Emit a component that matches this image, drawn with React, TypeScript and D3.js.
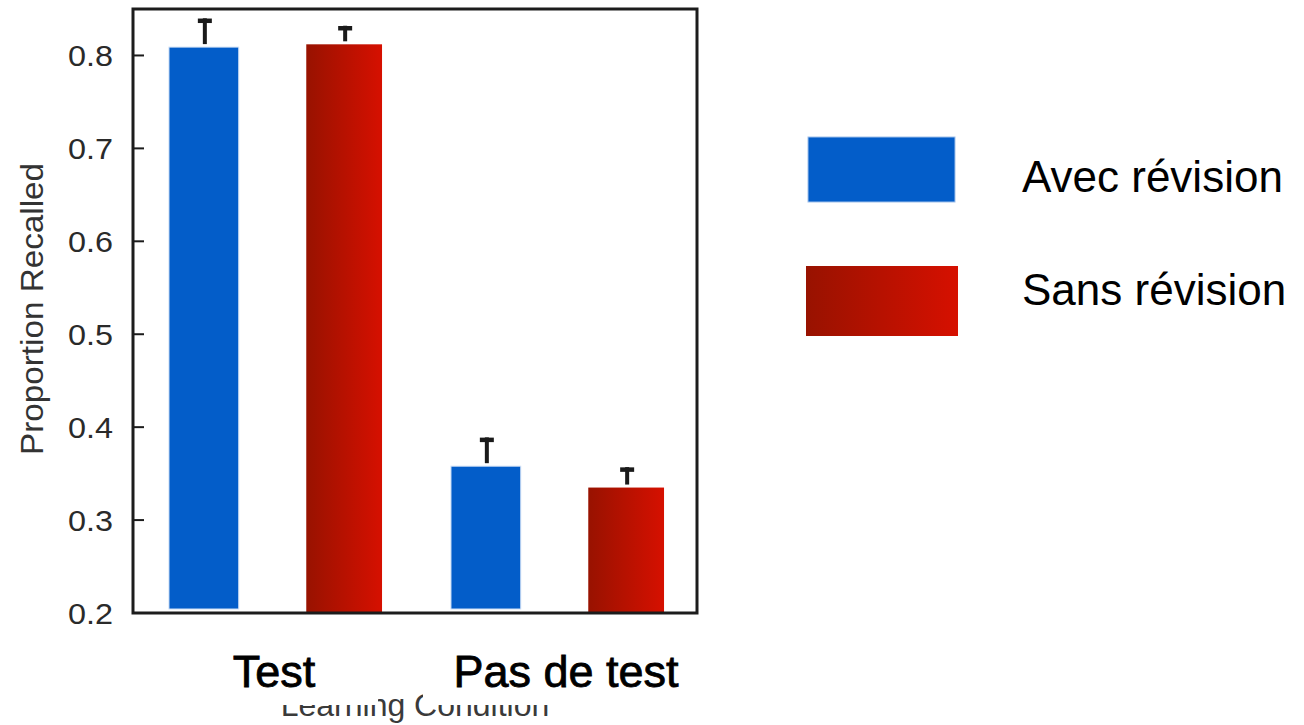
import React from "react";
import * as d3 from "d3";

const conditions = ["Test", "Pas de test"];
const series = ["Avec révision", "Sans révision"];
const avecValues = [0.809, 0.358];
const sansValues = [0.812, 0.335];
const avecErrors = [0.031, 0.031];
const sansErrors = [0.020, 0.022];
const yTicks = [0.2, 0.3, 0.4, 0.5, 0.6, 0.7, 0.8];
const yTitle = "Proportion Recalled";
const xTitle = "Learning Condition";

const W = 1304;
const H = 725;
const left = 133;
const right = 697;
const top = 9;
const bottom = 613;

const BLUE = "#035dc9";
const FONT = "'Liberation Sans', Arial, Helvetica, sans-serif";

export default function App() {
  const y = d3.scaleLinear().domain([0.2, 0.85]).range([bottom, top]);
  const x0 = d3.scaleBand<string>().domain(conditions).range([left, right]).paddingInner(0).paddingOuter(0);
  const x1 = d3.scaleBand<string>().domain(series).range([0, x0.bandwidth()]).paddingInner(0.46).paddingOuter(0.235);
  const bw = x1.bandwidth();

  const rows = conditions.map((c, i) => ({
    c,
    vals: [
      { s: series[0], v: avecValues[i], e: avecErrors[i] },
      { s: series[1], v: sansValues[i], e: sansErrors[i] },
    ],
  }));

  const labelDx = [0, 10];

  return (
    <svg width={W} height={H} style={{ position: "absolute", left: 0, top: 0, display: "block", background: "#fff" }}>
      <defs>
        <linearGradient id="redGrad" x1="0" x2="1" y1="0" y2="0">
          <stop offset="0%" stopColor="#981200" />
          <stop offset="100%" stopColor="#d61000" />
        </linearGradient>
      </defs>
      <rect x={0} y={0} width={W} height={H} fill="#fff" />

      {/* Learning Condition (partly hidden) */}
      <text x={415} y={716} textAnchor="middle" fontFamily={FONT} fontSize={32} fill="#3a3a3a">
        {xTitle}
      </text>
      <rect x={215} y={636} width={163} height={69} fill="#fff" />
      <rect x={423} y={636} width={277} height={69} fill="#fff" />

      {/* bars */}
      {rows.map((r) => (
        <g key={r.c} transform={`translate(${x0(r.c)},0)`}>
          {r.vals.map((d, j) => {
            const bx = x1(d.s) as number;
            const yt = y(d.v);
            if (j === 0) {
              return (
                <g key={d.s}>
                  <rect x={bx - 1} y={yt - 2} width={bw + 2} height={bottom - yt + 2} fill="#fff" />
                  <rect x={bx + 3} y={yt} width={bw - 6} height={bottom - 4 - yt} fill={BLUE} stroke="#cfe0f6" strokeWidth={1} />
                </g>
              );
            }
            return <rect key={d.s} x={bx} y={yt} width={bw} height={bottom - yt} fill="url(#redGrad)" />;
          })}
          {r.vals.map((d) => {
            const cx = (x1(d.s) as number) + bw / 2 + 1;
            const yt = y(d.v);
            const ye = y(d.v + d.e);
            return (
              <g key={d.s + "e"} stroke="#1a1a1a">
                <line x1={cx} x2={cx} y1={yt - 3} y2={ye} strokeWidth={4} />
                <line x1={cx - 7} x2={cx + 7} y1={ye + 2.5} y2={ye + 2.5} strokeWidth={4.5} />
              </g>
            );
          })}
        </g>
      ))}

      {/* frame */}
      <path d={`M${left},${top} H${right} V${bottom} H${left} Z`} fill="none" stroke="#1c1c1c" strokeWidth={3} />

      {/* y ticks */}
      {yTicks.map((t) => (
        <g key={t}>
          <line x1={left} x2={left + 11} y1={y(t)} y2={y(t)} stroke="#1c1c1c" strokeWidth={2} />
          <text
            x={113}
            y={y(t) + 10.5}
            textAnchor="end"
            fontFamily={FONT}
            fontSize={29}
            fill="#2a2a2a"
            textLength={45}
            lengthAdjust="spacingAndGlyphs"
          >
            {d3.format(".1f")(t)}
          </text>
        </g>
      ))}

      {/* y title */}
      <text
        transform={`translate(43,309) rotate(-90)`}
        textAnchor="middle"
        fontFamily={FONT}
        fontSize={31}
        fill="#333"
        textLength={292}
        lengthAdjust="spacingAndGlyphs"
      >
        {yTitle}
      </text>

      {/* category labels */}
      {conditions.map((c, i) => (
        <text
          key={c}
          x={(x0(c) as number) + x0.bandwidth() / 2 + labelDx[i]}
          y={687}
          textAnchor="middle"
          fontFamily={FONT}
          fontSize={45}
          fill="#000"
          stroke="#000"
          strokeWidth={0.8}
        >
          {c}
        </text>
      ))}

      {/* legend */}
      <rect x={808} y={137} width={147} height={65} fill={BLUE} stroke="#9fc0ea" strokeWidth={1} />
      <rect x={806} y={266} width={152} height={70} fill="url(#redGrad)" />
      <text x={1022} y={192} fontFamily={FONT} fontSize={44} fill="#000">
        {series[0]}
      </text>
      <text x={1022} y={305} fontFamily={FONT} fontSize={44} fill="#000">
        {series[1]}
      </text>
    </svg>
  );
}
